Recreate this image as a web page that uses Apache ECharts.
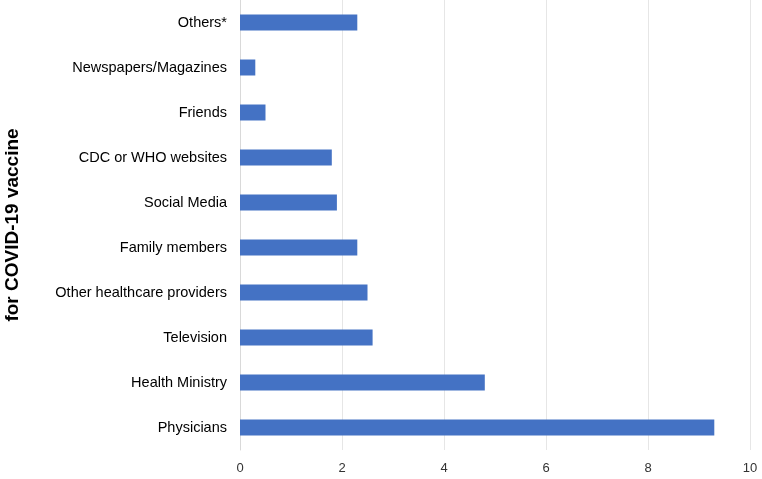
<!DOCTYPE html>
<html><head><meta charset="utf-8">
<script src="https://cdn.jsdelivr.net/npm/echarts@6/dist/echarts.min.js"></script>
<style>html,body{margin:0;padding:0;background:#fff}#main{width:762px;height:479px}</style>
</head><body><div id="main"></div>
<script>
var categories = ['Physicians','Health Ministry','Television','Other healthcare providers','Family members','Social Media','CDC or WHO websites','Friends','Newspapers/Magazines','Others*'];
var values = [9.3, 4.8, 2.6, 2.5, 2.3, 1.9, 1.8, 0.5, 0.3, 2.3];
var chart = echarts.init(document.getElementById('main'));
chart.setOption({
    animation: false,
    grid: {left: 240, right: 12, top: 0, bottom: 29, containLabel: false, outerBoundsMode: 'none'},
    xAxis: {
        type: 'value', min: 0, max: 10, interval: 2,
        name: 'Percentage (%)', nameLocation: 'middle', nameGap: 8,
        nameTextStyle: {fontFamily: 'Liberation Sans', fontSize: 19, fontWeight: 'bold', color: '#000'},
        axisLabel: {fontFamily: 'Liberation Sans', fontSize: 13, color: '#333', margin: 12},
        axisLine: {show: false}, axisTick: {show: false},
        splitLine: {lineStyle: {color: '#e6e6e6'}}
    },
    yAxis: {
        type: 'category', data: categories,
        name: 'Sources of Recommendations\nfor COVID-19 vaccine', nameLocation: 'middle', nameGap: 216,
        nameTextStyle: {fontFamily: 'Liberation Sans', fontSize: 19, fontWeight: 'bold', color: '#000', lineHeight: 22},
        axisLabel: {fontFamily: 'Liberation Sans', fontSize: 14.5, color: '#000', margin: 13},
        axisLine: {lineStyle: {color: '#d9d9d9'}}, axisTick: {show: false}
    },
    series: [{type: 'bar', data: values, barWidth: 16, itemStyle: {color: '#4472c4'}}]
});
</script></body></html>
